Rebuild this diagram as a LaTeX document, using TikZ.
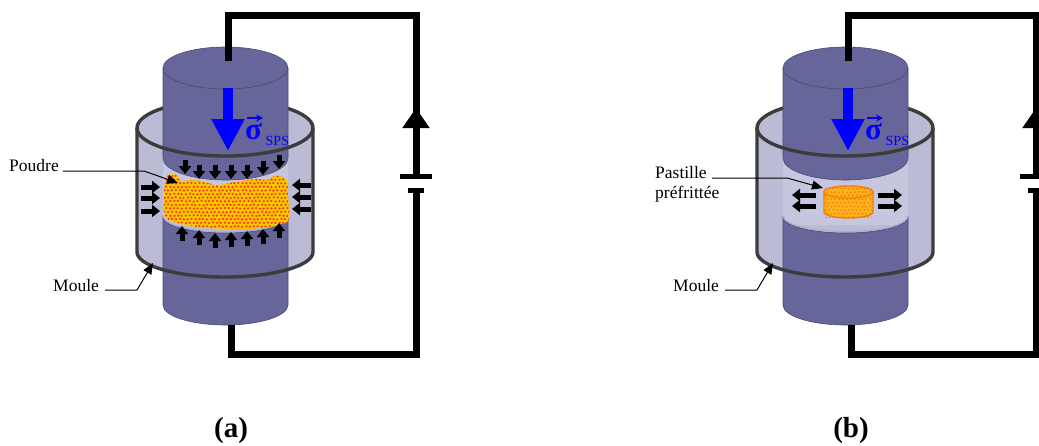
\documentclass[tikz,border=0pt]{standalone}
\usepackage{fontspec}
\setmainfont{Liberation Serif}
\usetikzlibrary{arrows.meta, calc}
\definecolor{spsPunch}{HTML}{66669A}
\definecolor{spsPunchEdge}{HTML}{4A4A70}
\definecolor{spsMould}{HTML}{BBBBD5}
\definecolor{spsCavity}{HTML}{C6C6DE}
\definecolor{spsRing}{HTML}{B0B0CA}
\definecolor{spsRim}{HTML}{3C3C3C}
\definecolor{spsBlue}{HTML}{0000FF}
\definecolor{spsPowder}{HTML}{FFC800}
\definecolor{spsGrain}{HTML}{F03C10}
\definecolor{spsPellet}{HTML}{FFB41E}
\definecolor{spsPelletEdge}{HTML}{F57A0A}
\tikzset{
  sps/wire/.style     = {line width=7pt, draw=black},
  sps/plate/.style    = {rectangle, fill=black, inner sep=0pt, minimum height=5pt},
  sps/rim/.style      = {line width=3.4pt, draw=spsRim},
  sps/punch/.style    = {fill=spsPunch, draw=spsPunchEdge, line width=0.6pt},
  sps/label/.style    = {font=\fontsize{17.5}{20}\selectfont, inner sep=0pt, align=left, anchor=base west},
  sps/caption/.style  = {font=\fontsize{29}{30}\selectfont\bfseries, inner sep=0pt},
  sps/leader/.style   = {line width=1pt, -{Triangle[length=11pt,width=9pt]}},
  sps/push/.style     = {line width=5pt, -{Triangle[length=8pt,width=12pt]}},
  sps/load/.style     = {line width=10pt, draw=spsBlue, -{Triangle[length=32pt,width=31pt]}},
  sps/vector/.style   = {line width=1.5pt, draw=spsBlue, -{Stealth[length=7pt,width=7pt]}},
  press/.pic = {
    % mould, back
    \fill[spsMould] (137,128) arc[start angle=180, end angle=0, x radius=88pt, y radius=28pt]
        -- (313,252) arc[start angle=0, end angle=-180, x radius=88pt, y radius=25pt] -- cycle;
    \draw[sps/rim] (137,128) arc[start angle=180, end angle=0, x radius=88pt, y radius=28pt];
    \fill[spsCavity] (163,150) rectangle (288,225);
    % punches
    \draw[sps/punch] (163,68) -- (163,158) arc[start angle=180, end angle=360, x radius=62.5pt, y radius=22pt]
        -- (288,68) arc[start angle=0, end angle=180, x radius=62.5pt, y radius=21pt] -- cycle;
    \draw[spsPunchEdge, line width=0.6pt] (163,68) arc[start angle=180, end angle=360, x radius=62.5pt, y radius=21pt];
    \draw[sps/punch] (163,217) arc[start angle=180, end angle=360, x radius=62.5pt, y radius=16pt]
        -- (288,305) arc[start angle=0, end angle=-180, x radius=62.5pt, y radius=20pt] -- cycle;
    \draw[spsRing, line width=1.2pt] (163,215.5) arc[start angle=180, end angle=360, x radius=62.5pt, y radius=16pt];
    % mould, front
    \draw[sps/rim] (137,128) -- (137,252) arc[start angle=180, end angle=360, x radius=88pt, y radius=25pt] -- (313,128);
    \draw[sps/rim] (137,128) arc[start angle=180, end angle=360, x radius=88pt, y radius=28pt];
    % circuit
    \node[sps/plate, minimum width=32pt] (platepos) at (416,176.5) {};
    \node[sps/plate, minimum width=16pt] (plateneg) at (416,190.5) {};
    \coordinate (wiretop) at (228,61);
    \coordinate (wirebot) at (231.5,325);
    \coordinate (cornertop) at (416,15.5);
    \coordinate (cornerbot) at (416,354.5);
    \coordinate (headstart) at (416,135);
    \coordinate (headtip) at (416,108);
    \draw[sps/wire] (wiretop) |- (cornertop) -- (platepos.north);
    \draw[sps/wire] (plateneg.south) -- (cornerbot) -| (wirebot);
    \draw[sps/wire, -{Triangle[length=20pt,width=26pt]}] (headstart) -- (headtip);
    % load
    \coordinate (loadtop) at (228,88);
    \coordinate (loadtip) at (228,151);
    \draw[sps/load] (loadtop) -- (loadtip);
    \node[font=\fontsize{31}{31}\selectfont\bfseries, text=spsBlue, inner sep=0pt, anchor=base west] (sigma) at (245,139) {σ};
    \node[font=\fontsize{14}{14}\selectfont, text=spsBlue, inner sep=0pt, anchor=base west] (sps) at (265.5,145) {SPS};
    \coordinate (vecstart) at (247,118);
    \coordinate (vecend) at (263,118);
    \draw[sps/vector] (vecstart) -- (vecend);
    % mould label
    \node[sps/label] (moule) at (53,291) {Moule};
    \coordinate (moulebend) at (137,290);
    \coordinate (mouletip) at (153,263);
    \draw[sps/leader] ([xshift=6pt,yshift=1pt]moule.base east) -- (moulebend) -- (mouletip);
  },
}
\newcommand{\grains}[6]{% x0, y0, columns, rows, colour, radius
  \pgfmathsetseed{7}
  \foreach \i in {0,...,#3} \foreach \j in {0,...,#4} {
    \fill[#5] ({#1+3.9*\i+1.95*mod(\j,2)+rnd*0.8},{#2+3.6*\j+rnd*0.8}) circle[radius=#6pt];
  }
}
\begin{document}
\begin{tikzpicture}[x=1pt, y=-1pt]
  \useasboundingbox (0,0) rectangle (1039,445);
  \clip (0,0) rectangle (1039,445);
  \pic (a) at (0,0) {press};
  \begin{scope}[xshift=620pt]
    \pic (b) at (0,0) {press};
  \end{scope}
  % powder
  \def\powderline{(165,181) (167,176) (172,174) (178,176) (181,181) (192,180) (205,182) (217,185) (235,182)
      (255,179) (268,180) (272,177) (280,176) (287,181) (288,195) (289,212) (287,222) (262,228) (230,229)
      (197,227) (167,219) (164,200)}
  \fill[spsPowder] plot[smooth cycle, tension=0.45] coordinates {\powderline};
  \begin{scope}
    \clip plot[smooth cycle, tension=0.45] coordinates {\powderline};
    \grains{162}{172}{33}{16}{spsGrain}{1.25}
  \end{scope}
  % pressure on the powder
  \foreach \xa/\ya in {185/160, 199/165, 215/165, 231/165, 247/165, 263/161, 279/155}
    \draw[sps/push] (\xa,\ya) -- (\xa,\ya+14);
  \foreach \xa/\ya in {182/241, 199/245, 215/248, 231/247, 247/246, 263/244, 279/238}
    \draw[sps/push] (\xa,\ya) -- (\xa,\ya-15);
  \foreach \ya in {187, 198, 211}
    \draw[sps/push] (141,\ya) -- (160,\ya);
  \foreach \ya in {185, 197, 209}
    \draw[sps/push] (311,\ya) -- (292,\ya);
  \node[sps/label] (poudre) at (9,171) {Poudre};
  \coordinate (poudrebend) at (144,171);
  \coordinate (poudretip) at (178,183);
  \draw[sps/leader] ([xshift=4pt]poudre.base east) -- (poudrebend) -- (poudretip);
  \node[sps/caption] (capa) at (231,431) {(a)};
  % pellet
  \draw[fill=spsPellet, draw=spsPelletEdge, line width=1.4pt] (824,192) -- (824,212)
      arc[start angle=180, end angle=360, x radius=24.5pt, y radius=6pt] -- (873,192)
      arc[start angle=0, end angle=180, x radius=24.5pt, y radius=6pt] -- cycle;
  \begin{scope}
    \clip (825,187) rectangle (872,217);
    \grains{825}{188}{12}{8}{spsPelletEdge}{1.0}
  \end{scope}
  \draw[spsPelletEdge, line width=1.2pt] (824,192) arc[start angle=180, end angle=360, x radius=24.5pt, y radius=6pt];
  \foreach \ya in {195, 206} {
    \draw[sps/push] (816,\ya) -- (792,\ya);
    \draw[sps/push] (878,\ya) -- (902,\ya);
  }
  \node[sps/label] (pastille) at (655,198) {Pastille\\préfrittée};
  \coordinate (pastillestart) at (712,178);
  \coordinate (pastillebend) at (787,178);
  \coordinate (pastilletip) at (823,188);
  \draw[sps/leader] (pastillestart) -- (pastillebend) -- (pastilletip);
  \node[sps/caption] (capb) at (851,431) {(b)};
\end{tikzpicture}
\end{document}
